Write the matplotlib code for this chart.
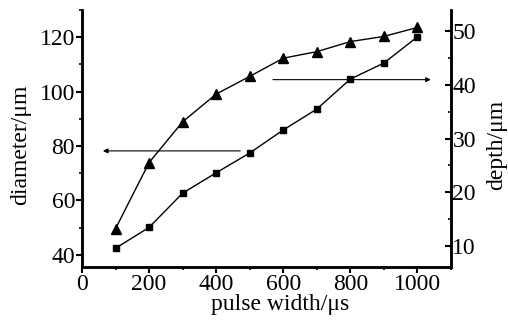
import matplotlib
matplotlib.use("Agg")
import matplotlib.pyplot as plt
from matplotlib.ticker import MultipleLocator

pulse_width = [100, 200, 300, 400, 500, 600, 700, 800, 900, 1000]
diameter = [49.6, 73.9, 88.9, 99.1, 105.6, 112.3, 114.7, 118.4, 120.3, 123.6]
depth = [9.5, 13.4, 19.8, 23.6, 27.3, 31.6, 35.5, 41.1, 44.1, 49.0]

plt.rcParams['font.family'] = ['Liberation Serif', 'DejaVu Serif']

fig = plt.figure(figsize=(5.08, 3.22), dpi=100)
ax = fig.add_axes([0.1614, 0.1708, 0.7264, 0.798])
ax2 = ax.twinx()

ax.plot(pulse_width, diameter, color='black', lw=1.0, marker='^', ms=6.5, zorder=3)
ax2.plot(pulse_width, depth, color='black', lw=1.0, marker='s', ms=5, zorder=3)

ax.set_xlim(0, 1100)
ax.set_ylim(35.5, 130)
ax2.set_ylim(6, 54)

ax.xaxis.set_major_locator(MultipleLocator(200))
ax.xaxis.set_minor_locator(MultipleLocator(100))
ax.yaxis.set_major_locator(MultipleLocator(20))
ax.yaxis.set_minor_locator(MultipleLocator(10))
ax2.yaxis.set_major_locator(MultipleLocator(10))
ax2.yaxis.set_minor_locator(MultipleLocator(5))

for a in (ax, ax2):
    a.spines['top'].set_visible(False)
    for s in a.spines.values():
        s.set_linewidth(1.8)

ax.tick_params(axis='both', which='major', direction='out', length=4, width=1.5,
               labelsize=17, pad=1)
ax.tick_params(axis='both', which='minor', direction='out', length=2.5, width=1.2)
ax2.tick_params(axis='y', which='major', direction='in', length=4, width=1.5,
                labelsize=17, pad=1)
ax2.tick_params(axis='y', which='minor', direction='in', length=2.5, width=1.2)

ax.set_xlabel('pulse width/μs', fontsize=17, labelpad=-1)
ax.set_ylabel('diameter/μm', fontsize=17, labelpad=6)
ax2.set_ylabel('depth/μm', fontsize=17, labelpad=7)
ax.xaxis.label.set_x(0.537)
ax.yaxis.label.set_y(0.475)
ax2.yaxis.label.set_y(0.475)

ax.annotate('', xy=(54, 78.2), xytext=(480, 78.2),
            arrowprops=dict(arrowstyle='-|>', color='black', lw=0.8,
                            mutation_scale=7))
ax2.annotate('', xy=(1048, 41.0), xytext=(561, 41.0),
             arrowprops=dict(arrowstyle='-|>', color='black', lw=0.8,
                             mutation_scale=7))

fig.savefig('out.png', dpi=100)
